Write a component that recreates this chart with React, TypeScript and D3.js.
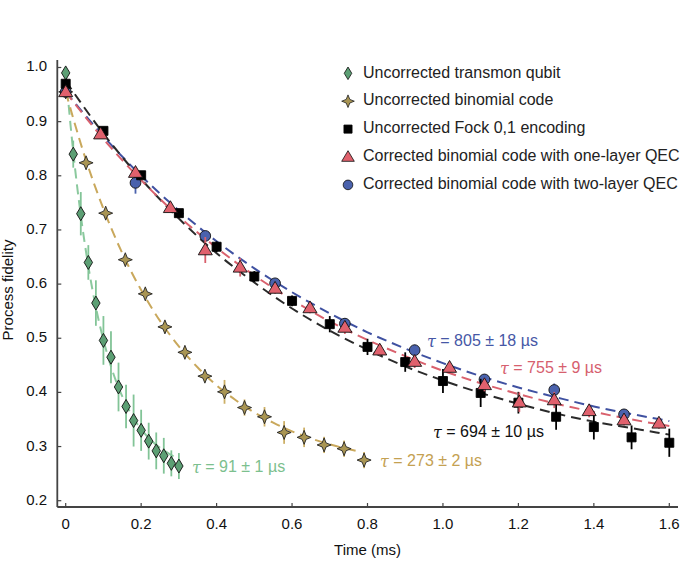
import React from "react";
import * as d3 from "d3";

// ---- data ----
const transmonT = [0, 0.02, 0.04, 0.06, 0.08, 0.1, 0.12, 0.14, 0.16, 0.18, 0.2, 0.22, 0.24, 0.26, 0.28, 0.3];
const transmonF = [0.99, 0.84, 0.73, 0.64, 0.565, 0.496, 0.465, 0.41, 0.374, 0.348, 0.33, 0.31, 0.292, 0.283, 0.269, 0.264];
const transmonErr = [0.01, 0.025, 0.04, 0.032, 0.042, 0.045, 0.048, 0.045, 0.04, 0.048, 0.038, 0.034, 0.034, 0.033, 0.024, 0.024];

const binomT = [0, 0.054, 0.106, 0.158, 0.211, 0.263, 0.316, 0.369, 0.421, 0.474, 0.527, 0.579, 0.632, 0.685, 0.738, 0.791];
const binomF = [0.955, 0.824, 0.731, 0.645, 0.582, 0.521, 0.474, 0.43, 0.401, 0.372, 0.355, 0.326, 0.317, 0.303, 0.296, 0.275];
const binomErr = [0.005, 0.005, 0.006, 0.006, 0.008, 0.01, 0.01, 0.01, 0.022, 0.015, 0.018, 0.021, 0.018, 0.015, 0.015, 0.015];

const fockT = [0, 0.1, 0.2, 0.3, 0.4, 0.5, 0.6, 0.7, 0.8, 0.9, 1.0, 1.1, 1.2, 1.3, 1.4, 1.5, 1.6];
const fockF = [0.97, 0.883, 0.801, 0.731, 0.669, 0.614, 0.569, 0.526, 0.484, 0.456, 0.421, 0.399, 0.381, 0.355, 0.336, 0.317, 0.307];
const fockErr = [0.005, 0.005, 0.006, 0.008, 0.01, 0.01, 0.01, 0.015, 0.015, 0.018, 0.022, 0.026, 0.02, 0.024, 0.023, 0.022, 0.026];

const oneT = [0, 0.0925, 0.185, 0.2775, 0.37, 0.4625, 0.555, 0.6475, 0.74, 0.8325, 0.925, 1.0175, 1.11, 1.2025, 1.295, 1.3875, 1.48, 1.5725];
const oneF = [0.955, 0.877, 0.806, 0.741, 0.663, 0.631, 0.592, 0.556, 0.52, 0.478, 0.457, 0.446, 0.414, 0.382, 0.386, 0.366, 0.349, 0.343];
const oneErr = [0.005, 0.006, 0.006, 0.008, 0.024, 0.017, 0.01, 0.01, 0.012, 0.01, 0.012, 0.01, 0.012, 0.018, 0.015, 0.012, 0.01, 0.01];

const twoT = [0, 0.185, 0.37, 0.555, 0.74, 0.925, 1.11, 1.295, 1.48];
const twoF = [0.955, 0.787, 0.689, 0.6015, 0.527, 0.478, 0.424, 0.4045, 0.3595];
const twoErr = [0.005, 0.02, 0.008, 0.008, 0.01, 0.01, 0.01, 0.012, 0.01];

// dashed fit curves
const transmonFitT = [0, 0.02, 0.04, 0.06, 0.08, 0.1, 0.12, 0.14, 0.16, 0.18, 0.2, 0.22, 0.24, 0.26, 0.28, 0.3];
const transmonFitF = [0.99, 0.844, 0.727, 0.633, 0.557, 0.497, 0.448, 0.409, 0.378, 0.352, 0.332, 0.316, 0.303, 0.293, 0.284, 0.277];
const binomFitT = [0, 0.05, 0.1, 0.15, 0.2, 0.25, 0.3, 0.35, 0.4, 0.45, 0.5, 0.55, 0.6, 0.65, 0.7, 0.77];
const binomFitF = [0.955, 0.837, 0.739, 0.657, 0.589, 0.532, 0.485, 0.446, 0.413, 0.386, 0.363, 0.344, 0.328, 0.315, 0.304, 0.292];
const longFitT = [0, 0.1, 0.2, 0.3, 0.4, 0.5, 0.6, 0.7, 0.8, 0.9, 1.0, 1.1, 1.2, 1.3, 1.4, 1.5, 1.6];
const fockFitF = [0.975, 0.878, 0.794, 0.721, 0.657, 0.603, 0.555, 0.514, 0.479, 0.448, 0.422, 0.399, 0.379, 0.361, 0.346, 0.334, 0.322];
const oneFitF = [0.955, 0.868, 0.792, 0.725, 0.667, 0.616, 0.571, 0.531, 0.497, 0.467, 0.44, 0.417, 0.397, 0.379, 0.364, 0.35, 0.338];
const twoFitF = [0.955, 0.873, 0.8, 0.736, 0.679, 0.629, 0.585, 0.546, 0.511, 0.481, 0.454, 0.43, 0.409, 0.391, 0.374, 0.36, 0.347];

const legendLabels = [
  "Uncorrected transmon qubit",
  "Uncorrected binomial code",
  "Uncorrected Fock 0,1 encoding",
  "Corrected binomial code with one-layer QEC",
  "Corrected binomial code with two-layer QEC",
];
const tauLabels = ["91 ± 1 µs", "273 ± 2 µs", "694 ± 10 µs", "755 ± 9 µs", "805 ± 18 µs"];

const xTicks = [0, 0.2, 0.4, 0.6, 0.8, 1.0, 1.2, 1.4, 1.6];
const yTicks = [0.2, 0.3, 0.4, 0.5, 0.6, 0.7, 0.8, 0.9, 1.0];

const W = 699;
const H = 562;
const FONT = "'Liberation Sans', Arial, Helvetica, sans-serif";

const x = d3.scaleLinear().domain([0, 1.6]).range([65.7, 669.3]);
const y = d3.scaleLinear().domain([0.2, 1.0]).range([500.7, 67.5]);

const diamond = "M0,-7L4.2,0L0,7L-4.2,0Z";
const star = "M0,-7L2,-2L7,0L2,2L0,7L-2,2L-7,0L-2,-2Z";
const square = "M-4.5,-4.5H4.5V4.5H-4.5Z";
const triangle = "M0,-7L7,4.8L-7,4.8Z";
const circle = d3.symbol(d3.symbolCircle, 90)() as string;

type Series = {
  t: number[];
  f: number[];
  err: number[];
  shape: string;
  fill: string;
  stroke: string;
  errColor: string;
  fitT: number[];
  fitF: number[];
  lineColor: string;
};

const green: Series = {
  t: transmonT, f: transmonF, err: transmonErr, shape: diamond, fill: "#5c9f74", stroke: "#111",
  errColor: "#82c497", fitT: transmonFitT, fitF: transmonFitF, lineColor: "#8bc99e",
};
const gold: Series = {
  t: binomT, f: binomF, err: binomErr, shape: star, fill: "#a99553", stroke: "#222",
  errColor: "#cdb067", fitT: binomFitT, fitF: binomFitF, lineColor: "#c9a85c",
};
const black: Series = {
  t: fockT, f: fockF, err: fockErr, shape: square, fill: "#000", stroke: "#000",
  errColor: "#000", fitT: longFitT, fitF: fockFitF, lineColor: "#2a2a2a",
};
const red: Series = {
  t: oneT, f: oneF, err: oneErr, shape: triangle, fill: "#e0616d", stroke: "#111",
  errColor: "#d9606c", fitT: longFitT, fitF: oneFitF, lineColor: "#d9616d",
};
const blue: Series = {
  t: twoT, f: twoF, err: twoErr, shape: circle, fill: "#4a62ad", stroke: "#111",
  errColor: "#4a62ad", fitT: longFitT, fitF: twoFitF, lineColor: "#3f51a1",
};

const legendSeries = [green, gold, black, red, blue];
const drawOrder = [green, gold, blue, black, red];

const fitLine = d3
  .line<[number, number]>()
  .x((d) => x(d[0]))
  .y((d) => y(d[1]))
  .curve(d3.curveMonotoneX);

function Points({ s }: { s: Series }) {
  return (
    <g>
      {s.t.map((t, i) => (
        <line key={"e" + i} x1={x(t)} x2={x(t)} y1={y(s.f[i] - s.err[i])} y2={y(s.f[i] + s.err[i])}
          stroke={s.errColor} strokeWidth={1.8} />
      ))}
      {s.t.map((t, i) => (
        <path key={"m" + i} d={s.shape} transform={`translate(${x(t)},${y(s.f[i])})`}
          fill={s.fill} stroke={s.stroke} strokeWidth={0.9} />
      ))}
    </g>
  );
}

function Tau({ px, py, color, text }: { px: number; py: number; color: string; text: string }) {
  return (
    <text x={px} y={py} fill={color} fontSize={16} fontFamily={FONT} dominantBaseline="middle">
      <tspan fontStyle="italic" fontFamily="'DejaVu Serif', serif">τ</tspan>
      {" = " + text}
    </text>
  );
}

export default function App() {
  const xAxisY = 507;
  const yAxisX = 57.3;
  return (
    <svg width={W} height={H} style={{ position: "absolute", left: 0, top: 0, background: "#fff" }}>
      {/* axes */}
      <line x1={yAxisX} x2={yAxisX} y1={60} y2={xAxisY} stroke="#444" strokeWidth={1.8} />
      <line x1={yAxisX} x2={678} y1={xAxisY} y2={xAxisY} stroke="#444" strokeWidth={1.8} />
      {yTicks.map((v) => (
        <g key={"y" + v}>
          <line x1={yAxisX} x2={yAxisX + 4} y1={y(v)} y2={y(v)} stroke="#444" strokeWidth={1.2} />
          <text x={47} y={y(v)} textAnchor="end" dominantBaseline="middle" fontSize={15} fontFamily={FONT} fill="#111">
            {d3.format(".1f")(v)}
          </text>
        </g>
      ))}
      {xTicks.map((v) => (
        <g key={"x" + v}>
          <line x1={x(v)} x2={x(v)} y1={xAxisY} y2={xAxisY - 4} stroke="#444" strokeWidth={1.2} />
          <text x={x(v)} y={529} textAnchor="middle" fontSize={15} fontFamily={FONT} fill="#111">
            {v === 0 ? "0" : d3.format(".1f")(v)}
          </text>
        </g>
      ))}
      <text x={367.5} y={555} textAnchor="middle" fontSize={15} fontFamily={FONT} fill="#111">Time (ms)</text>
      <text transform="translate(13,290) rotate(-90)" textAnchor="middle" fontSize={15} fontFamily={FONT} fill="#111">
        Process fidelity
      </text>

      {/* fits */}
      {drawOrder.map((s, k) => (
        <path key={"fit" + k} d={fitLine(s.fitT.map((t, i) => [t, s.fitF[i]] as [number, number])) || ""}
          fill="none" stroke={s.lineColor} strokeWidth={2} strokeDasharray="10,6" />
      ))}

      {/* data */}
      {drawOrder.map((s, k) => (
        <Points key={"p" + k} s={s} />
      ))}

      {/* tau annotations */}
      <Tau px={192} py={468} color="#7cc08e" text={tauLabels[0]} />
      <Tau px={380} py={462} color="#c4a152" text={tauLabels[1]} />
      <Tau px={433} py={433} color="#111" text={tauLabels[2]} />
      <Tau px={500} py={369} color="#d6606e" text={tauLabels[3]} />
      <Tau px={427} py={342} color="#4657a6" text={tauLabels[4]} />

      {/* legend */}
      {legendSeries.map((s, i) => {
        const ly = 73.3 + i * 27.9;
        return (
          <g key={"lg" + i}>
            <path d={s.shape} transform={`translate(348,${ly}) scale(0.9)`} fill={s.fill} stroke={s.stroke} strokeWidth={0.9} />
            <text x={363} y={ly} dominantBaseline="middle" fontSize={16} fontFamily={FONT} fill="#222">
              {legendLabels[i]}
            </text>
          </g>
        );
      })}
    </svg>
  );
}
